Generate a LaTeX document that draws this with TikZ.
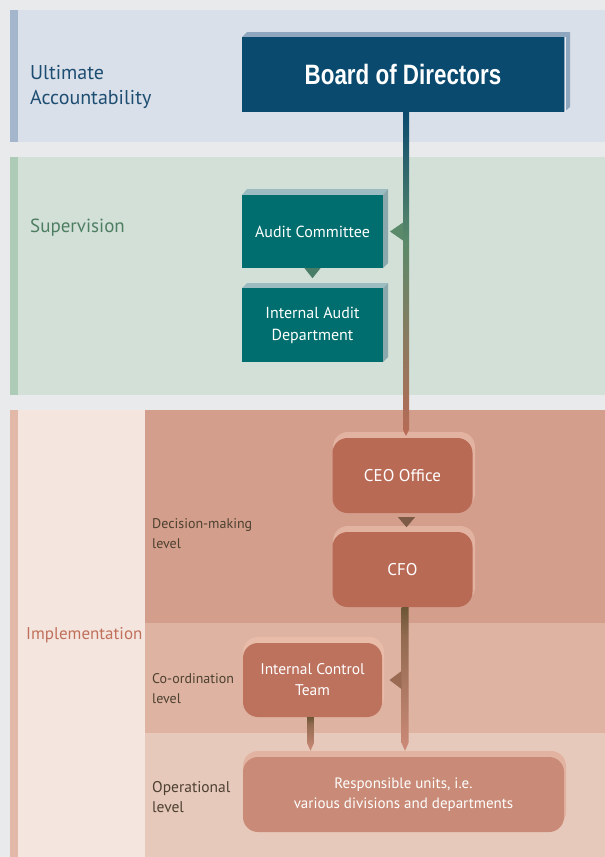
\documentclass[tikz,border=0pt]{standalone}
\usepackage{fontspec}
\setmainfont{PT Sans}
\newfontfamily\boardfont{Liberation Sans}
\usetikzlibrary{calc}
\definecolor{bgc}{HTML}{E9EAEC}
\definecolor{bandA}{HTML}{D9E0E9}
\definecolor{stripA}{HTML}{A4B6CC}
\definecolor{bandB}{HTML}{D3E0D8}
\definecolor{stripB}{HTML}{AECBB8}
\definecolor{stripC}{HTML}{E2B9A8}
\definecolor{leftC}{HTML}{F4E6DF}
\definecolor{decC}{HTML}{D39E8B}
\definecolor{coordC}{HTML}{DEB3A2}
\definecolor{opC}{HTML}{E6C9BA}
\definecolor{boardC}{HTML}{0A4A6E}
\definecolor{boardEdge}{HTML}{8FA6BF}
\definecolor{tealC}{HTML}{006E6E}
\definecolor{tealEdge}{HTML}{9BBCC0}
\definecolor{ceoC}{HTML}{B86A55}
\definecolor{ceoHi}{HTML}{E3B3A2}
\definecolor{ictC}{HTML}{BD725E}
\definecolor{ictHi}{HTML}{E8BCA9}
\definecolor{ruC}{HTML}{C98B77}
\definecolor{ruHi}{HTML}{E2B3A1}
\definecolor{lineTop}{HTML}{0A4A6E}
\definecolor{lineMid}{HTML}{5B8A6A}
\definecolor{lineBot}{HTML}{B86A55}
\definecolor{brTop}{HTML}{6B5535}
\definecolor{brBot}{HTML}{CC8A78}
\definecolor{uaText}{HTML}{1E4D72}
\definecolor{supText}{HTML}{4E7E62}
\definecolor{impText}{HTML}{C0705A}
\definecolor{lvlText}{HTML}{4D4030}
\definecolor{triGreen}{HTML}{5A8A6A}
\definecolor{triDGreen}{HTML}{4A7D68}
\definecolor{triBrown}{HTML}{7D5A45}
\definecolor{triMid}{HTML}{9A6B52}
\pgfdeclareverticalshading{mainline}{100bp}{color(0bp)=(lineBot); color(25bp)=(lineBot); color(55bp)=(lineMid); color(75bp)=(lineTop); color(100bp)=(lineTop)}
\pgfdeclareverticalshading{brline}{100bp}{color(0bp)=(brBot); color(25bp)=(brBot); color(65bp)=(brTop!60!brBot); color(75bp)=(brTop); color(100bp)=(brTop)}
\tikzset{
  tealbox/.style={fill=tealC, text=white, minimum width=141pt, minimum height=73pt, inner sep=0pt, align=center, font=\fontsize{16}{22}\selectfont},
  roundbox/.style={fill=ceoC, text=white, rounded corners=15pt, minimum width=140pt, minimum height=75pt, inner sep=0pt, align=center, font=\fontsize{17}{21}\selectfont},
  lbl/.style={anchor=west, align=left, inner sep=0pt},
  lvl/.style={lbl, text=lvlText, font=\fontsize{14}{20}\selectfont},
}
\begin{document}
\begin{tikzpicture}[x=1pt,y=-1pt]
\useasboundingbox (0,0) rectangle (605,857);
\fill[bgc] (0,0) rectangle (605,857);
% bands
\fill[bandA] (10,10) rectangle (605,142);
\fill[stripA] (10,10) rectangle (18,142);
\fill[bandB] (10,157) rectangle (605,395);
\fill[stripB] (10,157) rectangle (18,395);
\fill[stripC] (10,410) rectangle (18,857);
\fill[leftC] (18,410) rectangle (145,857);
\fill[decC] (145,410) rectangle (605,623);
\fill[coordC] (145,623) rectangle (605,733);
\fill[opC] (145,733) rectangle (605,857);
% band labels
\node[lbl, text=uaText, font=\fontsize{20}{25}\selectfont] (ua) at (30,87) {Ultimate\\Accountability};
\node[lbl, text=supText, font=\fontsize{19}{22}\selectfont] (sup) at (30,228) {Supervision};
\node[lbl, text=impText, font=\fontsize{17}{22}\selectfont] (imp) at (26,635) {Implementation};
\node[lvl] (dml) at (152,534) {Decision-making\\level};
\node[lvl] (col) at (152,689) {Co-ordination\\level};
\node[lvl, font=\fontsize{15.5}{20}\selectfont] (opl) at (152,797) {Operational\\level};
% board
\fill[boardEdge] (242,37) -- (247,32) -- (570,32) -- (564,37) -- cycle;
\fill[boardEdge] (564,37) -- (570,32) -- (570,107) -- (564,112) -- cycle;
\draw[white!80!boardEdge, line width=0.6pt] (564.8,37) -- (564.8,112);
\node[fill=boardC, text=white, minimum width=322pt, minimum height=75pt, inner sep=0pt] (board) at (403,74.5)
  {\boardfont\bfseries\fontsize{28}{30}\selectfont\scalebox{0.8}[1]{Board of Directors}};
% teal boxes
\fill[tealEdge] (242,195) -- (247,189) -- (388,189) -- (383,195) -- cycle;
\fill[tealEdge!90!black] (383,195) -- (388,189) -- (388,263) -- (383,268) -- cycle;
\node[tealbox] (ac) at (312.5,231.5) {Audit Committee};
\fill[tealEdge] (242,288) -- (247,283) -- (388,283) -- (383,288) -- cycle;
\fill[tealEdge!90!black] (383,288) -- (388,283) -- (388,357) -- (383,362) -- cycle;
\node[tealbox, minimum height=74pt] (iad) at (312.5,325) {Internal Audit\\Department};
% rounded boxes with highlight
\fill[ceoHi, rounded corners=15pt] (333,432) rectangle (475,508);
\node[roundbox] (ceo) at (402.5,475.5) {CEO Office};
\fill[ceoHi, rounded corners=15pt] (333,526) rectangle (475,602);
\node[roundbox] (cfo) at (402.5,569.5) {CFO};
\fill[ictHi, rounded corners=15pt] (243,637) rectangle (384,712);
\node[roundbox, fill=ictC, minimum width=139pt, minimum height=74pt, font=\fontsize{15.5}{21}\selectfont] (ict) at (312.5,680) {Internal Control\\Team};
\fill[ruHi, rounded corners=15pt] (243,751) rectangle (566,827);
\node[roundbox, fill=ruC, minimum width=321pt, font=\fontsize{15}{19.5}\selectfont] (ru) at (403.5,794.5) {Responsible units, i.e.\\various divisions and departments};
% connectors
\coordinate (mtop) at ([xshift=3pt]board.south);
\coordinate (mbot) at (mtop |- ceo.north);
\shade[shading=mainline] ([xshift=-3pt]mtop) -- ([xshift=3pt]mtop) -- ([xshift=3pt,yshift=8pt]mbot) -- ([yshift=2pt]mbot) -- ([xshift=-3pt,yshift=8pt]mbot) -- cycle;
\coordinate (ctop) at ([xshift=3pt]cfo.south);
\coordinate (cbot) at ([yshift=6pt]ctop |- ru.north);
\shade[shading=brline] ([xshift=-4pt]ctop) -- ([xshift=3pt]ctop) -- ([xshift=3pt,yshift=8pt]cbot) -- ([xshift=-0.5pt]cbot) -- ([xshift=-4pt,yshift=8pt]cbot) -- cycle;
\coordinate (itop) at ([xshift=-2pt]ict.south);
\coordinate (ibot) at ([yshift=6pt]itop |- ru.north);
\shade[shading=brline] ([xshift=-3.5pt]itop) -- ([xshift=3.5pt]itop) -- ([xshift=3.5pt,yshift=8pt]ibot) -- (ibot) -- ([xshift=-3.5pt,yshift=8pt]ibot) -- cycle;
% triangles
\fill[triGreen] ([xshift=-3pt]mtop |- ac.east) ++(0,-9) -- ++(0,18) -- ++(-13,-9) -- cycle;
\fill[triDGreen] (ac.south) ++(-8,0) -- ++(16,0) -- ++(-8,10) -- cycle;
\fill[triBrown] (ceo.south) ++(-4.5,4) -- ++(17,0) -- ++(-8.5,10) -- cycle;
\fill[triMid] ([xshift=-4pt]ctop |- ict.east) ++(0,-9) -- ++(0,18) -- ++(-12,-9) -- cycle;
\end{tikzpicture}
\end{document}
